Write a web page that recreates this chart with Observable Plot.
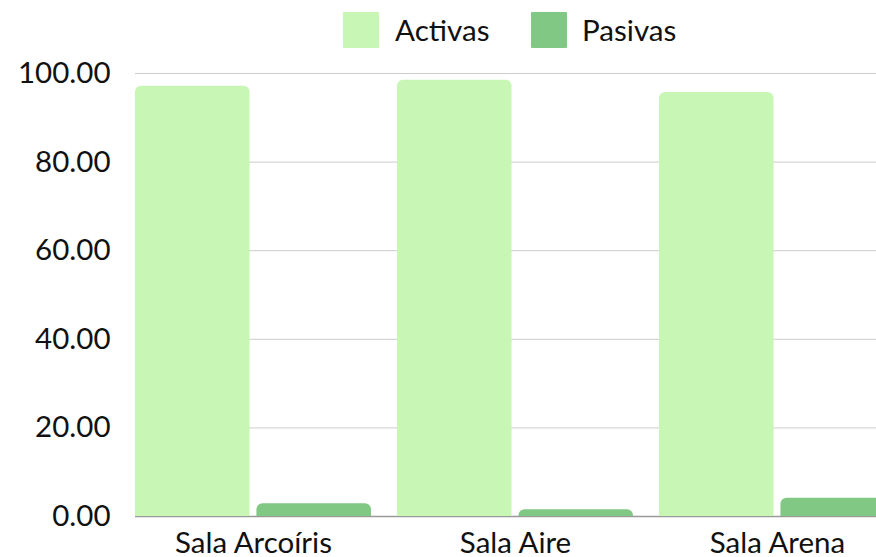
<!DOCTYPE html>
<html>
<head>
<meta charset="utf-8">
<script src="https://cdn.jsdelivr.net/npm/d3@7"></script>
<script src="https://cdn.jsdelivr.net/npm/@observablehq/plot@0.6"></script>
<style>
  html, body { margin: 0; padding: 0; background: #fff; overflow: hidden; width: 876px; height: 557px; position: relative; }
  body { font-family: Lato, "Noto Sans", sans-serif; color: #111; }
  #legend { position: absolute; left: 0; top: 0; width: 876px; height: 60px; z-index: 2; }
  .sw { position: absolute; top: 12px; width: 36px; height: 36px; border-radius: 1px; }
  .lab { position: absolute; top: 0; font-size: 29.6px; line-height: 60px; white-space: nowrap; }
  #chart { position: absolute; left: 0; top: 0; width: 876px; height: 557px; overflow: hidden; }
  #chart svg { display: block; max-width: none !important; }
</style>
</head>
<body>
<div id="chart"></div>
<div id="legend"></div>
<script>
const categories = ["Sala Arcoíris", "Sala Aire", "Sala Arena"];
const series = ["Activas", "Pasivas"];
const activas = [97.1, 98.5, 95.7];
const pasivas = [2.9, 1.5, 4.1];
const yTicks = [0, 20, 40, 60, 80, 100];
const colors = ["#c8f6b5", "#80c884"];

// legend
const legend = document.getElementById("legend");
const legendPos = [{sw: 343, lab: 395}, {sw: 531, lab: 582}];
series.forEach((s, i) => {
  const sw = document.createElement("div");
  sw.className = "sw";
  sw.style.left = legendPos[i].sw + "px";
  sw.style.background = colors[i];
  legend.appendChild(sw);
  const lab = document.createElement("div");
  lab.className = "lab";
  lab.style.left = legendPos[i].lab + "px";
  lab.textContent = s;
  legend.appendChild(lab);
});

const dataA = categories.map((c, i) => ({category: c, value: activas[i]}));
const dataP = categories.map((c, i) => ({category: c, value: pasivas[i]}));

const width = 910, height = 557, mL = 135, mR = 15;
const bw = (width - mL - mR) / (categories.length - 0.1) * 0.9;
const inset = bw / 2 + 3.5;

const chart = Plot.plot({
  width, height,
  marginLeft: mL, marginRight: mR, marginTop: 73, marginBottom: 41,
  style: {fontFamily: "Lato, 'Noto Sans', sans-serif", color: "#111", background: "transparent", overflow: "visible", maxWidth: "none"},
  x: {type: "band", domain: categories, paddingInner: 0.1, paddingOuter: 0, label: null},
  y: {domain: [0, 100], label: null},
  marks: [
    Plot.ruleY(yTicks.filter(d => d > 0), {stroke: "#cccccc", strokeWidth: 1}),
    Plot.ruleY([0], {stroke: "#9a9a9a", strokeWidth: 1.5}),
    Plot.barY(dataA, {x: "category", y: "value", fill: colors[0], insetRight: inset, ry1: 6}),
    Plot.barY(dataP, {x: "category", y: "value", fill: colors[1], insetLeft: inset, ry1: 6}),
    Plot.axisY({ticks: yTicks, tickFormat: d => d.toFixed(2), tickSize: 0, tickPadding: 25, fontSize: 29.5, fill: "#111"}),
    Plot.axisX({tickSize: 0, tickPadding: 16, fontSize: 29.5, fill: "#111"})
  ]
});
chart.style.maxWidth = "none";
document.getElementById("chart").appendChild(chart);
</script>
</body>
</html>
